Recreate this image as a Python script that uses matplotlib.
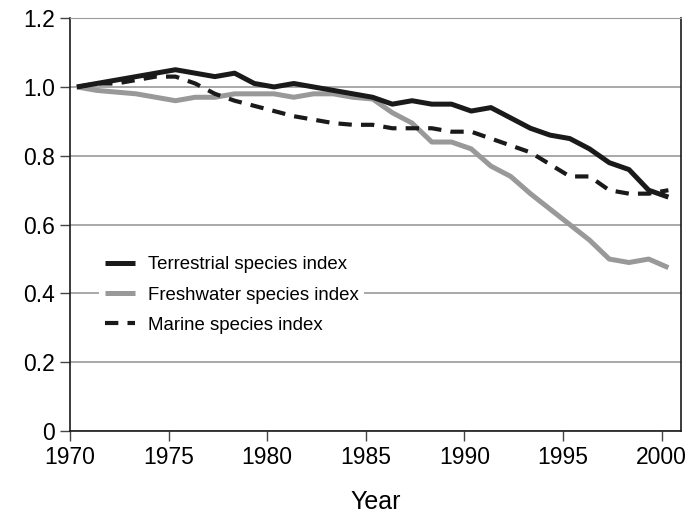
"""Living Planet style species index chart, 1970-2000."""
import numpy as np
import matplotlib
matplotlib.use("Agg")
import matplotlib.pyplot as plt

plt.rcParams["font.family"] = ["Liberation Sans", "DejaVu Sans"]

# yearly index values, 1970 = 1.0
years = np.arange(1970, 2001)
terrestrial = [1.00, 1.01, 1.02, 1.03, 1.04, 1.05, 1.04, 1.03, 1.04, 1.01,
               1.00, 1.01, 1.00, 0.99, 0.98, 0.97, 0.95, 0.96, 0.95, 0.95,
               0.93, 0.94, 0.91, 0.88, 0.86, 0.85, 0.82, 0.78, 0.76, 0.70,
               0.68]
freshwater = [1.00, 0.99, 0.985, 0.98, 0.97, 0.96, 0.97, 0.97, 0.98, 0.98,
              0.98, 0.97, 0.98, 0.98, 0.97, 0.965, 0.925, 0.895, 0.84, 0.84,
              0.82, 0.77, 0.74, 0.69, 0.645, 0.60, 0.555, 0.50, 0.49, 0.50,
              0.475]
marine = [1.00, 1.01, 1.01, 1.02, 1.03, 1.03, 1.01, 0.98, 0.96, 0.945,
          0.93, 0.915, 0.905, 0.895, 0.89, 0.89, 0.88, 0.88, 0.88, 0.87,
          0.87, 0.85, 0.83, 0.81, 0.775, 0.74, 0.74, 0.70, 0.69, 0.69,
          0.70]
labels = ["Terrestrial species index", "Freshwater species index",
          "Marine species index"]

# points sit a little after the tick for each year
x = years + 0.35

fig = plt.figure(figsize=(6.93, 5.17), dpi=100)
ax = fig.add_axes([0.101, 0.166, 0.882, 0.799])

ax.plot(x, terrestrial, color="#1a1a1a", lw=3.6, label=labels[0],
        solid_capstyle="butt", zorder=3)
ax.plot(x, freshwater, color="#999999", lw=3.6, label=labels[1],
        solid_capstyle="butt", zorder=2)
ax.plot(x, marine, color="#1a1a1a", lw=3.0, dashes=(3.2, 2.2),
        label=labels[2], zorder=4)

ax.set_xlim(1970, 2001)
ax.set_ylim(0, 1.2)
ax.set_xticks(range(1970, 2001, 5))
ax.set_yticks([0, 0.2, 0.4, 0.6, 0.8, 1.0, 1.2])
ax.set_yticklabels(["0", "0.2", "0.4", "0.6", "0.8", "1.0", "1.2"])
ax.yaxis.grid(True, color="#9a9a9a", lw=1.2)
ax.set_axisbelow(True)

for side in ["left", "bottom", "right"]:
    ax.spines[side].set_color("#1a1a1a")
    ax.spines[side].set_linewidth(1.2)
ax.spines["top"].set_color("#9a9a9a")
ax.tick_params(axis="both", labelsize=16.5, length=7, width=1.0,
               color="#444444", pad=4)

ax.set_xlabel("Year", fontsize=18, labelpad=15)

leg = ax.legend(loc="upper left", bbox_to_anchor=(0.033, 0.46),
                fontsize=13.4, handlelength=1.6, handletextpad=0.7,
                frameon=True, facecolor="white", edgecolor="none",
                framealpha=1, borderpad=0.3, labelspacing=0.72)

fig.savefig("out.png", dpi=100)
